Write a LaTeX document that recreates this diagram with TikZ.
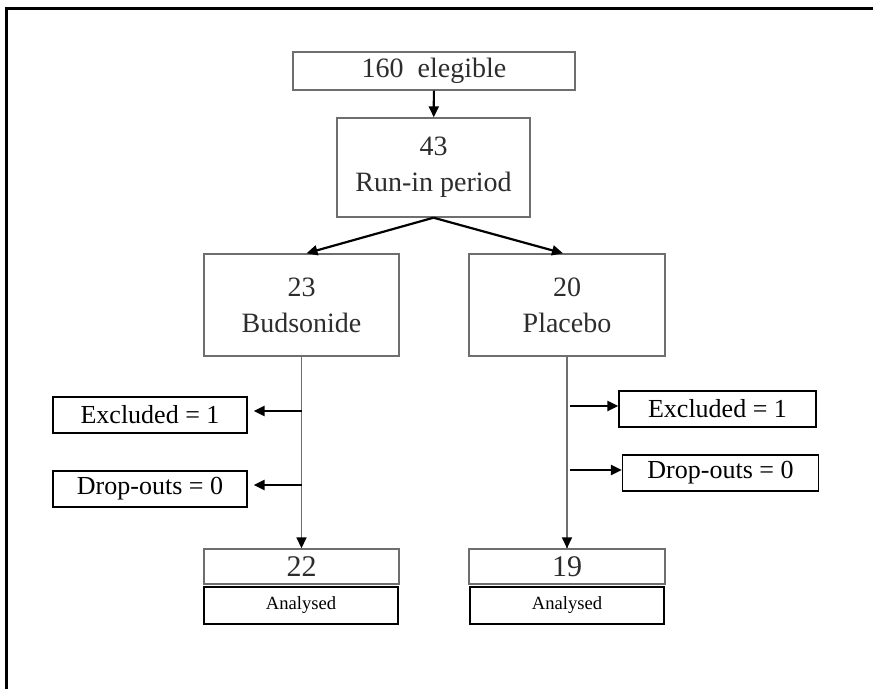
\documentclass[tikz,border=0pt]{standalone}
\usepackage{fontspec}
\setmainfont{Liberation Serif}
\usepackage{xcolor}
\usetikzlibrary{positioning,calc,arrows.meta}
\definecolor{ScanGray}{RGB}{110,110,110}
\definecolor{ScanText}{RGB}{45,45,45}
\tikzset{
    flowarrow/.style={draw=black, line width=1.1pt, -{Triangle[length=5.5pt,width=5pt]}},
    stemline/.style={draw=ScanGray, line width=0.8pt}
}

\begin{document}
\begin{tikzpicture}[
        x=0.5pt, y=-0.5pt,
        % Style chung cho hop
        common/.style={
            rectangle,
            inner sep=0pt,
            align=center
        },
        % Hop quet (vien xam)
        scan_box/.style={
            common,
            draw=ScanGray,
            line width=0.7pt,
            text=ScanText,
            font=\fontsize{14}{18}\selectfont
        },
        % Hop ghi chu (vien den)
        note_box/.style={
            common,
            draw=black,
            line width=0.6pt,
            minimum width=97pt,
            minimum height=18pt,
            font=\fontsize{13}{15}\selectfont
        },
        % Hop "Analysed"
        small_box/.style={
            common,
            draw=black,
            line width=0.6pt,
            minimum width=97pt,
            minimum height=18.5pt,
            font=\fontsize{9.3}{11}\selectfont
        }
    ]

        % --- KHUNG ---
        \useasboundingbox (0,0) rectangle (873,689);
        \draw[line width=1.5pt] (6,689) -- (6,9) -- (873,9);

        % --- CAC HOP CHINH ---
        \node[scan_box, minimum width=141pt, minimum height=19pt] (elig) at (434,71) {160\ \ elegible};
        \node[scan_box, minimum width=96.5pt, minimum height=49.5pt] (runin) at (433.5,167.5) {43\\Run-in period};
        \node[scan_box, minimum width=97.5pt, minimum height=51pt] (bud) at (301.5,305) {23\\Budsonide};
        \node[scan_box, minimum width=98pt, minimum height=51pt] (plac) at (567,305) {20\\Placebo};

        % --- KET QUA ---
        \node[scan_box, minimum width=97.5pt, minimum height=17.5pt, font=\fontsize{15}{17}\selectfont] (n22) at (301.5,566.5) {22};
        \node[small_box] (anl) at (301,605.5) {Analysed};
        \node[scan_box, minimum width=98pt, minimum height=17.5pt, font=\fontsize{15}{17}\selectfont] (n19) at (567,566.5) {19};
        \node[small_box] (anr) at (567,605.5) {Analysed};

        % --- LOAI TRU ---
        \node[note_box] (exl) at (150,415) {Excluded = 1};
        \node[note_box] (dol) at (150,489) {Drop-outs = 0};
        \node[note_box, minimum width=98.5pt] (exr) at (717.5,409) {Excluded = 1};
        \node[note_box, minimum width=98pt] (dor) at (720.5,473) {Drop-outs = 0};

        % --- DUONG NOI ---
        \draw[flowarrow] (elig) -- (runin);
        \draw[flowarrow] (runin.south) -- ($(bud.north)+(5,0)$);
        \draw[flowarrow] (runin.south) -- ($(plac.north)+(-4,0)$);

        \draw[stemline] (bud.south) -- (n22.north);
        \draw[stemline] (plac.south) -- (n19.north);
        \draw[flowarrow, line width=0.8pt] ($(n22.north)+(0,-10)$) -- (n22.north);
        \draw[flowarrow, line width=0.8pt] ($(n19.north)+(0,-10)$) -- (n19.north);

        % --- MUI TEN NGANG ---
        \foreach \side in {exl, dol} {
            \coordinate (A) at ($(bud.south |- \side.east)+(0,-4)$);
            \draw[flowarrow, shorten >=3pt] (A) -- (A -| \side.east);
        }
        \foreach \side in {exr, dor} {
            \coordinate (B) at ($(plac.south |- \side.west)+(3,-3)$);
            \draw[flowarrow] (B) -- (B -| \side.west);
        }

    \end{tikzpicture}
\end{document}
